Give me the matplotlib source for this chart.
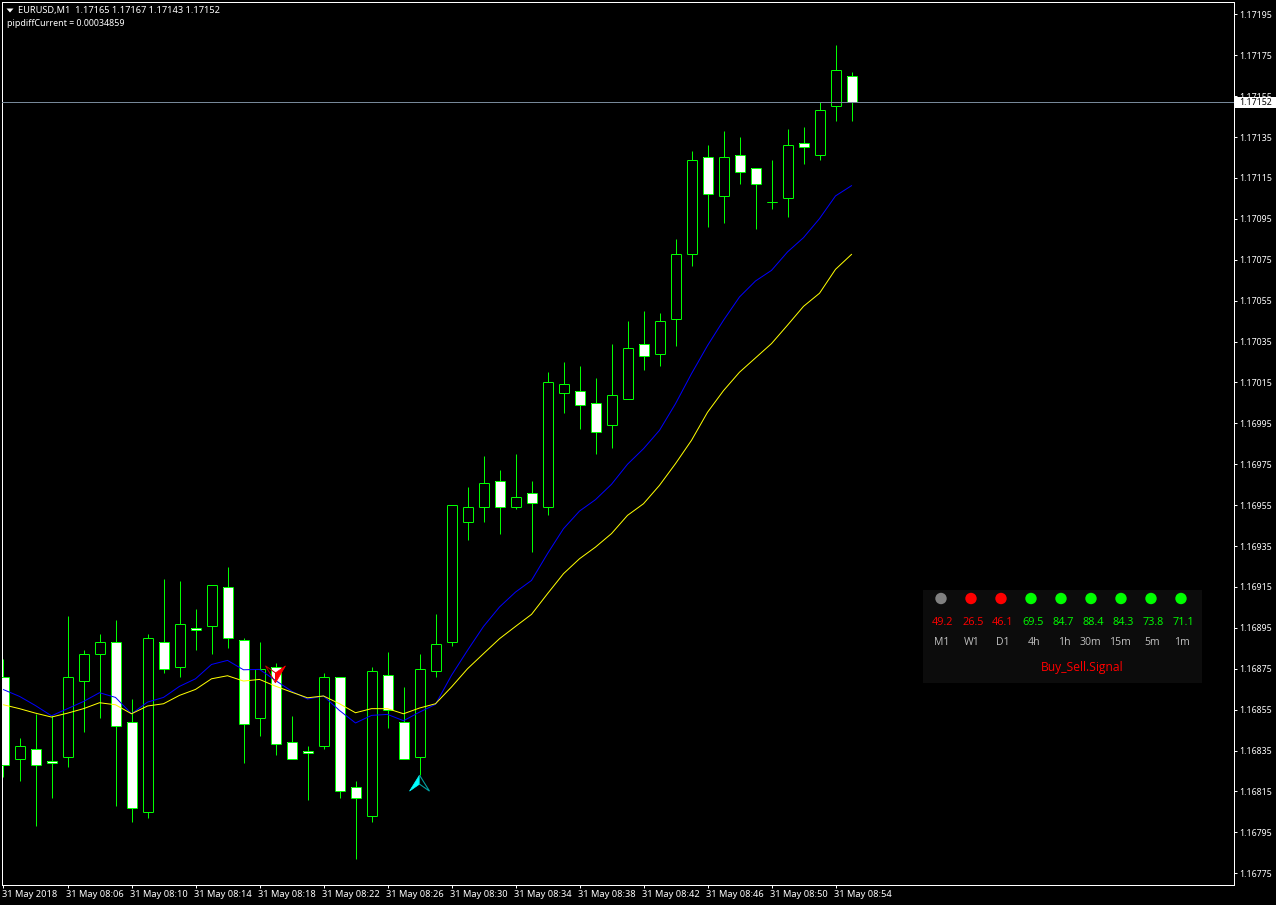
import matplotlib
matplotlib.use("Agg")
import matplotlib.pyplot as plt
from matplotlib.patches import Rectangle, Polygon, Circle
from matplotlib.transforms import Affine2D
import numpy as np

OPEN = [1.16871,1.16831,1.16836,1.16830,1.16832,1.16869,1.16882,1.16888,1.16849,1.16805,
        1.16888,1.16876,1.16895,1.16896,1.16915,1.16889,1.16851,1.16876,1.16839,1.16835,
        1.16837,1.16871,1.16817,1.16803,1.16872,1.16849,1.16832,1.16874,1.16888,1.16947,
        1.16954,1.16967,1.16954,1.16961,1.16954,1.17010,1.17011,1.17005,1.16994,1.17007,
        1.17034,1.17029,1.17046,1.17078,1.17125,1.17106,1.17126,1.17120,1.17103,1.17105,
        1.17132,1.17126,1.17150,1.17165]
CLOSE = [1.16828,1.16837,1.16828,1.16829,1.16871,1.16882,1.16888,1.16847,1.16807,1.16890,
         1.16875,1.16897,1.16894,1.16916,1.16890,1.16848,1.16875,1.16838,1.16831,1.16834,
         1.16871,1.16815,1.16812,1.16874,1.16855,1.16831,1.16875,1.16887,1.16955,1.16954,
         1.16966,1.16954,1.16959,1.16956,1.17015,1.17014,1.17004,1.16991,1.17009,1.17032,
         1.17028,1.17045,1.17078,1.17124,1.17107,1.17125,1.17118,1.17112,1.17103,1.17131,
         1.17130,1.17148,1.17168,1.17152]
HIGH = [1.16880,1.16841,1.16853,1.16852,1.16901,1.16884,1.16892,1.16899,1.16860,1.16892,
        1.16919,1.16918,1.16904,1.16916,1.16925,1.16890,1.16888,1.16878,1.16852,1.16837,
        1.16873,1.16871,1.16820,1.16876,1.16883,1.16866,1.16882,1.16902,1.16955,1.16964,
        1.16979,1.16972,1.16980,1.16967,1.17020,1.17025,1.17023,1.17017,1.17034,1.17045,
        1.17050,1.17049,1.17085,1.17128,1.17131,1.17138,1.17135,1.17120,1.17124,1.17139,
        1.17140,1.17152,1.17180,1.17167]
LOW = [1.16822,1.16820,1.16798,1.16812,1.16827,1.16844,1.16851,1.16808,1.16800,1.16802,
       1.16873,1.16871,1.16884,1.16882,1.16885,1.16829,1.16842,1.16833,1.16831,1.16811,
       1.16836,1.16812,1.16782,1.16800,1.16846,1.16831,1.16823,1.16871,1.16886,1.16938,
       1.16947,1.16941,1.16953,1.16932,1.16950,1.17000,1.16992,1.16980,1.16983,1.17007,
       1.17021,1.17023,1.17033,1.17072,1.17091,1.17093,1.17112,1.17090,1.17100,1.17096,
       1.17122,1.17124,1.17143,1.17143]
MA_BLUE = [1.168648,1.168615,1.16857,1.16852,1.168555,1.16859,1.168633,1.16861,1.16853,1.168587,
           1.16861,1.168664,1.168701,1.168771,1.168791,1.168745,1.168747,1.168693,1.168641,1.168602,
           1.168617,1.168546,1.168485,1.168522,1.168527,1.168496,1.168538,1.168576,1.168718,1.16884,
           1.168957,1.169052,1.169125,1.169182,1.169313,1.169435,1.169521,1.169577,1.169652,1.16975,
           1.169826,1.169916,1.170046,1.170193,1.17033,1.170454,1.170568,1.170646,1.170698,1.170788,
           1.170858,1.170951,1.171062,1.171112]
MA_YELLOW = [1.168574,1.168555,1.168533,1.168514,1.168533,1.168555,1.168584,1.168574,1.16853,1.168568,
             1.168579,1.16862,1.168649,1.168701,1.168716,1.16869,1.168698,1.168665,1.168636,1.168608,
             1.168617,1.168579,1.168535,1.168555,1.168555,1.16853,1.168558,1.168579,1.168661,1.16875,
             1.168824,1.168897,1.168957,1.169016,1.169117,1.169215,1.169288,1.169345,1.169411,1.1695,
             1.169557,1.169647,1.169753,1.169867,1.170004,1.17011,1.1702,1.17027,1.17034,1.17043,
             1.170522,1.170586,1.170703,1.170776]
Y_TICKS = [1.16775,1.16795,1.16815,1.16835,1.16855,1.16875,1.16895,1.16915,1.16935,1.16955,1.16975,
           1.16995,1.17015,1.17035,1.17055,1.17075,1.17095,1.17115,1.17135,1.17155,1.17175,1.17195]
X_TICK_INDEX = [0,4,8,12,16,20,24,28,32,36,40,44,48,52]
X_TICK_LABELS = ["31 May 2018","31 May 08:06","31 May 08:10","31 May 08:14","31 May 08:18",
                 "31 May 08:22","31 May 08:26","31 May 08:30","31 May 08:34","31 May 08:38",
                 "31 May 08:42","31 May 08:46","31 May 08:50","31 May 08:54"]
BID = 1.17152
TITLE = "EURUSD,M1  1.17165 1.17167 1.17143 1.17152"
SUBTITLE = "pipdiffCurrent = 0.00034859"
PANEL_DOTS = ["#808080","#ff0000","#ff0000","#00ff00","#00ff00","#00ff00","#00ff00","#00ff00","#00ff00"]
PANEL_VALUES = ["49.2","26.5","46.1","69.5","84.7","88.4","84.3","73.8","71.1"]
PANEL_COLORS = ["#ff0000"]*3 + ["#00ff00"]*6
PANEL_LABELS = ["M1","W1","D1","4h","1h","30m","15m","5m","1m"]
PANEL_LABEL_SHIFT = [1,1,2,3,3,-1,-1,1,1]
PANEL_SIGNAL = "Buy_Sell.Signal"
SELL_SIGNAL = (17, 1.16873)
BUY_SIGNAL = (26, 1.16823)

W, H = 1276, 905
FONT = "Noto Sans"
plt.rcParams["font.family"] = [FONT, "DejaVu Sans"]
fig = plt.figure(figsize=(W/100, H/100), dpi=100, facecolor="black")
L, R, T, B = 2.5, 1233.5, 2.5, 884.5
ax = fig.add_axes([L/W, (H-B)/H, (R-L)/W, (B-T)/H], facecolor="black")

PX_PER_BAR = 16.0
BAR0_PX = 3.5
ax.set_xlim((L-BAR0_PX)/PX_PER_BAR, (R-BAR0_PX)/PX_PER_BAR)
PX_PER_PRICE = (873.3-14.3)/(Y_TICKS[-1]-Y_TICKS[0])
ax.set_ylim(Y_TICKS[-1]-(B-14.3)/PX_PER_PRICE, Y_TICKS[-1]+(14.3-T)/PX_PER_PRICE)

for s in ax.spines.values():
    s.set_color("white"); s.set_linewidth(0.72)
ax.yaxis.tick_right()
ax.set_yticks(Y_TICKS)
ax.set_yticklabels([f"{v:.5f}" for v in Y_TICKS])
ax.set_xticks(X_TICK_INDEX)
ax.set_xticklabels(X_TICK_LABELS, ha="left")
ax.tick_params(axis="y", colors="white", length=2.2, width=0.72, pad=2.2, labelsize=6.3)
ax.tick_params(axis="x", colors="white", length=2.2, width=0.72, pad=1.6, labelsize=6.7)
for lab in ax.get_xticklabels():
    lab.set_transform(lab.get_transform() + Affine2D().translate(-1, 0))

GREEN = "#00ff00"
xs = np.arange(len(OPEN))
opens, closes = np.array(OPEN), np.array(CLOSE)
top = np.maximum(opens, closes)
bot = np.minimum(opens, closes)
BODY_W = 10.0/PX_PER_BAR
ax.vlines(xs, LOW, HIGH, color=GREEN, lw=0.72, zorder=2)
for i in range(len(xs)):
    fill = "black" if closes[i] >= opens[i] else "white"
    ax.add_patch(Rectangle((i-BODY_W/2, bot[i]), BODY_W, top[i]-bot[i], facecolor=fill,
                           edgecolor="none", zorder=3))
ax.vlines(xs-BODY_W/2, bot, top, color=GREEN, lw=0.72, zorder=3.5)
ax.vlines(xs+BODY_W/2, bot, top, color=GREEN, lw=0.72, zorder=3.5)
ax.hlines(top, xs-BODY_W/2, xs+BODY_W/2, color=GREEN, lw=0.72, zorder=3.5)
ax.hlines(bot, xs-BODY_W/2, xs+BODY_W/2, color=GREEN, lw=0.72, zorder=3.5)
ax.plot(xs, MA_BLUE, color="#0000ff", lw=0.72, zorder=4)
ax.plot(xs, MA_YELLOW, color="#ffff00", lw=0.72, zorder=5)
ax.axhline(BID, color="#778899", lw=0.72, zorder=6)

fig.canvas.draw()
def anchored(ix, price):
    px, py = ax.transData.transform((ix, price))
    return Affine2D().scale(1, -1).translate(px, py)

tr = anchored(*SELL_SIGNAL)
ax.add_patch(Polygon([(-10,-7),(0,10),(0,0)], closed=True, facecolor="none", edgecolor="#c00000",
                     lw=0.7, transform=tr, zorder=7, clip_on=False))
ax.add_patch(Polygon([(10,-7),(0,10),(0,0)], closed=True, facecolor="#ff0000", edgecolor="#ff0000",
                     lw=0.5, transform=tr, zorder=7, clip_on=False))
tr = anchored(*BUY_SIGNAL)
ax.add_patch(Polygon([(-10,16),(0,0),(0,9)], closed=True, facecolor="#00ffff", edgecolor="#00ffff",
                     lw=0.5, transform=tr, zorder=7, clip_on=False))
ax.add_patch(Polygon([(10,16),(0,0),(0,9)], closed=True, facecolor="none", edgecolor="#00a0a0",
                     lw=0.8, transform=tr, zorder=7, clip_on=False))

ov = fig.add_axes([0, 0, 1, 1], facecolor="none")
ov.set_xlim(0, W); ov.set_ylim(H, 0); ov.axis("off")

# price tag
ov.add_patch(Rectangle((1235, 97), 41, 11, facecolor="white", edgecolor="none"))
ov.text(1239, 102.5, f"{BID:.5f}", color="black", fontsize=6.3, va="center", ha="left")

# header
ov.add_patch(Polygon([(6.5,8.5),(13.5,8.5),(10,12.5)], closed=True, facecolor="white", edgecolor="none"))
ov.text(18, 10, TITLE, color="white", fontsize=6.65, va="center", ha="left")
ov.text(7, 23, SUBTITLE, color="white", fontsize=6.4, va="center", ha="left")

# panel
ov.add_patch(Rectangle((923, 590), 279, 93, facecolor="#0c0c0c", edgecolor="none"))
PFONT = "Open Sans"
for k in range(9):
    cx = 941 + 30*k
    ov.add_patch(Circle((cx, 598.5), 5.7, facecolor=PANEL_DOTS[k], edgecolor="none"))
    ov.text(cx+2, 622.5, PANEL_VALUES[k], color=PANEL_COLORS[k], fontsize=7.8, ha="center", va="center", family=PFONT)
    ov.text(cx+PANEL_LABEL_SHIFT[k], 642.5, PANEL_LABELS[k], color="#c0c0c0", fontsize=7.6, ha="center", va="center", family=PFONT)
ov.text(1082, 667, PANEL_SIGNAL, color="#ff0000", fontsize=8.7, ha="center", va="center", family=PFONT)

fig.savefig("out.png", dpi=100, facecolor="black")
